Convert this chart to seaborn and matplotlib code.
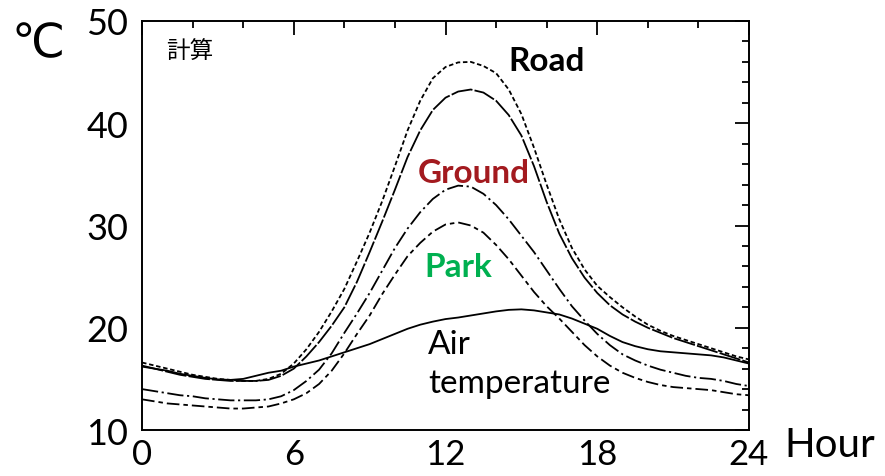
import numpy as np
import pandas as pd
import matplotlib
matplotlib.use("Agg")
import matplotlib.pyplot as plt
import seaborn as sns
from matplotlib.ticker import MultipleLocator

hours = [i * 0.5 for i in range(49)]

road_max = [16.6, 16.3, 16.0, 15.7, 15.4, 15.2, 15.0, 14.9, 14.8, 14.8,
            15.0, 15.5, 16.5, 17.9, 19.6, 21.6, 23.8, 26.5, 29.3, 32.4,
            35.8, 39.3, 42.2, 44.4, 45.5, 45.95, 46.0, 45.6, 44.9, 43.3,
            40.9, 37.6, 34.0, 30.6, 27.8, 25.7, 24.1, 23.0, 22.0, 21.1,
            20.3, 19.7, 19.2, 18.8, 18.4, 18.0, 17.6, 17.2, 16.9]
road = [16.3, 16.0, 15.7, 15.4, 15.2, 15.0, 14.9, 14.8, 14.8, 14.8,
        14.9, 15.3, 16.0, 17.2, 18.6, 20.2, 22.0, 24.5, 27.4, 30.4,
        33.5, 36.7, 39.3, 41.3, 42.5, 43.1, 43.3, 43.0, 42.2, 40.8,
        38.8, 35.8, 32.3, 29.2, 26.8, 24.9, 23.4, 22.2, 21.3, 20.6,
        20.0, 19.5, 19.0, 18.6, 18.2, 17.8, 17.4, 17.0, 16.6]
ground = [14.0, 13.8, 13.6, 13.4, 13.3, 13.1, 13.0, 12.9, 12.9, 12.9,
          13.0, 13.3, 13.9, 14.8, 15.9, 17.5, 19.5, 21.4, 23.4, 25.6,
          27.8, 29.7, 31.3, 32.6, 33.5, 33.9, 33.8, 33.1, 32.0, 30.6,
          29.0, 27.4, 25.6, 23.8, 22.1, 20.7, 19.4, 18.3, 17.4, 16.8,
          16.3, 15.9, 15.6, 15.3, 15.1, 15.0, 14.8, 14.5, 14.3]
park = [13.0, 12.8, 12.6, 12.5, 12.4, 12.3, 12.2, 12.1, 12.1, 12.2,
        12.3, 12.6, 13.0, 13.6, 14.5, 15.8, 17.5, 19.4, 21.2, 23.3,
        25.2, 27.0, 28.3, 29.4, 30.1, 30.3, 30.0, 29.3, 28.1, 26.7,
        25.1, 23.5, 22.1, 20.9, 19.6, 18.3, 17.2, 16.3, 15.6, 15.1,
        14.7, 14.4, 14.2, 14.1, 14.0, 13.9, 13.7, 13.5, 13.4]
air = [16.2, 16.0, 15.8, 15.5, 15.3, 15.1, 14.95, 14.9, 15.0, 15.3,
       15.6, 15.8, 16.2, 16.5, 16.8, 17.2, 17.6, 18.0, 18.4, 18.9,
       19.4, 19.9, 20.3, 20.6, 20.85, 21.0, 21.2, 21.4, 21.6, 21.75,
       21.8, 21.7, 21.5, 21.3, 20.9, 20.4, 19.9, 19.2, 18.6, 18.2,
       17.9, 17.7, 17.6, 17.5, 17.4, 17.3, 17.1, 16.8, 16.5]

series = {"road_max": road_max, "road": road, "ground": ground,
          "park": park, "air": air}

x_ticks = [0, 6, 12, 18, 24]
y_ticks = [10, 20, 30, 40, 50]

df = pd.concat([pd.DataFrame({"hour": hours, "temp": v, "series": k})
                for k, v in series.items()], ignore_index=True)

sns.set_style("white")
plt.rcParams["font.family"] = ["Lato", "DejaVu Sans"]
plt.rcParams["text.color"] = "black"
plt.rcParams["xtick.color"] = "black"
plt.rcParams["ytick.color"] = "black"
plt.rcParams["xtick.labelcolor"] = "black"
plt.rcParams["ytick.labelcolor"] = "black"

fig = plt.figure(figsize=(8.85, 4.77), dpi=100)
ax = fig.add_axes([0.1605, 0.0964, 0.6858, 0.8575])

dashes = {"road_max": (2.5, 1.5), "road": (12, 1.2), "ground": (9, 2, 1.2, 2),
          "park": (7, 2.2, 2.5, 2.2), "air": ""}
sns.lineplot(data=df, x="hour", y="temp", style="series", dashes=dashes,
             color="black", linewidth=1.3, estimator=None, legend=False,
             ax=ax, sort=False)

ax.set_xlim(0, 24)
ax.set_ylim(10, 50)
ax.set_xticks(x_ticks)
ax.set_yticks(y_ticks)
ax.xaxis.set_minor_locator(MultipleLocator(2))
ax.yaxis.set_minor_locator(MultipleLocator(2))
ax.tick_params(which="both", direction="in", top=True, right=True,
               width=1.3, color="black", labelcolor="black")
ax.tick_params(which="major", length=10, labelsize=26)
ax.tick_params(axis="x", which="major", labelsize=25)
ax.tick_params(which="minor", length=5)
ax.tick_params(axis="y", which="major", pad=10)
ax.tick_params(axis="x", which="major", pad=6)
ax.set_xlabel("")
ax.set_ylabel("")
for s in ax.spines.values():
    s.set_visible(True)
    s.set_linewidth(1.4)
    s.set_color("black")

ax.text(0.95, 47.0, "計算", fontsize=17, ha="left", va="center",
        color="black", family=["Noto Sans CJK JP", "DejaVu Sans"])
ax.text(16.0, 46.1, "Road", fontsize=24, fontweight="bold", color="black",
        ha="center", va="center")
ax.text(13.12, 35.2, "Ground", fontsize=24, fontweight="bold", color="#A31A1F",
        ha="center", va="center")
ax.text(12.5, 26.0, "Park", fontsize=24, fontweight="bold", color="#00B050",
        ha="center", va="center")
ax.text(11.3, 18.4, "Air", fontsize=24, ha="left", va="center", color="black")
ax.text(11.3, 14.6, "temperature", fontsize=24, ha="left", va="center",
        color="black")

fig.text(0.043, 0.906, "℃", fontsize=34, ha="center", va="center",
         color="black", family=["DejaVu Sans", "Noto Sans CJK JP"])
fig.text(0.938, 0.065, "Hour", fontsize=29, ha="center", va="center",
         color="black")

fig.savefig("out.png", dpi=100)
